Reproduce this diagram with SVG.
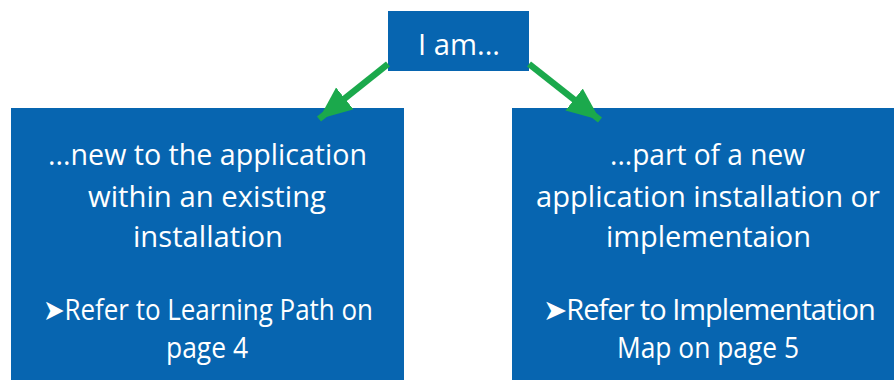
<svg xmlns="http://www.w3.org/2000/svg" width="894" height="381" viewBox="0 0 894 381">
<style>
.box{fill:#0765B0}
.t{fill:#ffffff;font-family:"Open Sans","Noto Sans",sans-serif;font-size:29px;text-anchor:middle}
.conn{stroke:#1BA94C;stroke-width:6.5;fill:none}
</style>
<defs>
<marker id="ah" markerUnits="userSpaceOnUse" markerWidth="36" markerHeight="30" refX="33" refY="14" orient="auto">
<path d="M0,0 L33,14 L0,28 Z" fill="#1BA94C"/>
</marker>
</defs>
<rect width="894" height="381" fill="#ffffff"/>
<g id="top">
<rect class="box" x="388" y="11" width="141" height="60"/>
<text class="t" x="459" y="55" font-size="32" textLength="82" lengthAdjust="spacingAndGlyphs">I am...</text>
</g>
<g id="left">
<rect class="box" x="11" y="108" width="393" height="272"/>
<text class="t" x="207.5" y="165" textLength="319" lengthAdjust="spacingAndGlyphs">...new to the application</text>
<text class="t" x="207" y="207" textLength="238" lengthAdjust="spacingAndGlyphs">within an existing</text>
<text class="t" x="208" y="247" textLength="150" lengthAdjust="spacingAndGlyphs">installation</text>
<text class="t" x="208" y="320" textLength="330" lengthAdjust="spacingAndGlyphs">➤Refer to Learning Path on</text>
<text class="t" x="207" y="358" textLength="82" lengthAdjust="spacingAndGlyphs">page 4</text>
</g>
<g id="right">
<rect class="box" x="512" y="108" width="382" height="272"/>
<text class="t" x="707.5" y="165" textLength="195" lengthAdjust="spacingAndGlyphs">...part of a new</text>
<text class="t" x="708" y="207" textLength="344" lengthAdjust="spacingAndGlyphs">application installation or</text>
<text class="t" x="708.5" y="247" textLength="205" lengthAdjust="spacingAndGlyphs">implementaion</text>
<text class="t" x="709" y="320" font-size="27" letter-spacing="-1">➤Refer to Implementation</text>
<text class="t" x="708" y="358" textLength="182" lengthAdjust="spacingAndGlyphs">Map on page 5</text>
</g>
<g id="connectors">
<line class="conn" x1="388" y1="64" x2="319" y2="119" marker-end="url(#ah)"/>
<line class="conn" x1="529" y1="64" x2="600" y2="120" marker-end="url(#ah)"/>
</g>
</svg>
